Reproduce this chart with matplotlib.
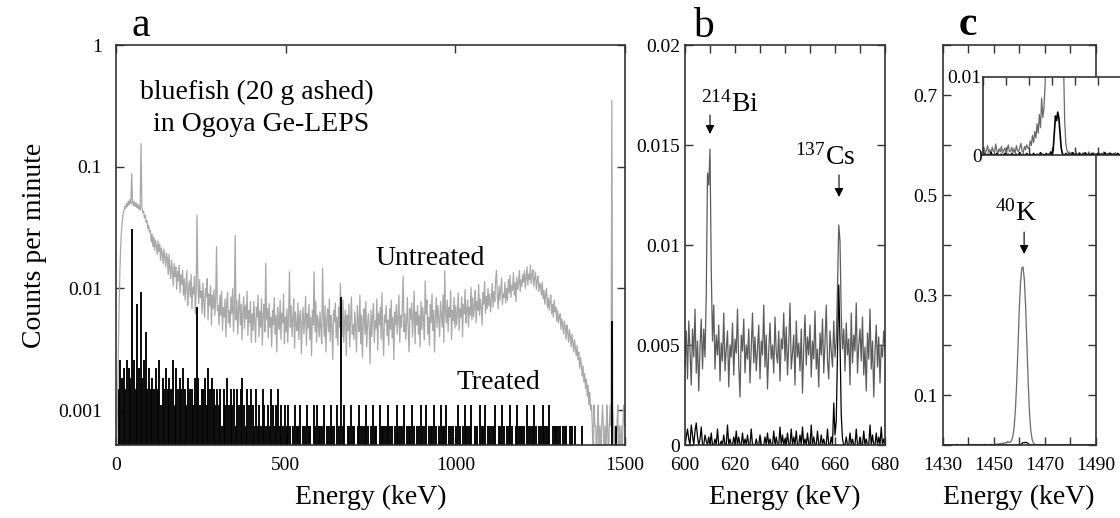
"""Ge-LEPS spectra of ashed bluefish: full range (log), 137Cs region and 40K region."""

import numpy as np
import matplotlib
matplotlib.use("Agg")
import matplotlib.pyplot as plt
from matplotlib.ticker import NullLocator, MultipleLocator

plt.rcParams["font.family"] = ["Liberation Serif", "DejaVu Serif"]
plt.rcParams["mathtext.fontset"] = "custom"
plt.rcParams["mathtext.rm"] = "Liberation Serif"
plt.rcParams["mathtext.default"] = "rm"

# ---- panel a: full spectrum ----
# untreated, 2.5 keV bins, in 1e-4 cpm (one row = 50 keV)
A_UNT_BIN = 2.5
UNTREATED_A = [
    3, 8, 20, 60, 130, 220, 300, 360, 410, 440, 470, 455, 500, 470, 520, 485, 540, 500, 880, 510,
    480, 520, 470, 505, 460, 495, 450, 480, 440, 1550, 470, 420, 430, 380, 400, 350, 360, 310, 330, 290,
    300, 240, 280, 220, 265, 205, 250, 225, 190, 245, 200, 230, 170, 215, 195, 160, 210, 180, 150, 195,
    175, 130, 190, 145, 120, 170, 140, 105, 160, 125, 150, 98, 138, 115, 155, 92, 130, 108, 140, 88,
    120, 80, 105, 140, 72, 98, 115, 85, 130, 68, 102, 90, 125, 62, 95, 400, 110, 75, 118, 84,
    95, 62, 110, 78, 58, 100, 85, 120, 55, 90, 72, 105, 50, 88, 68, 98, 60, 82, 220, 66,
    72, 50, 88, 60, 95, 45, 70, 58, 82, 40, 75, 92, 52, 66, 48, 85, 62, 100, 44, 70,
    272, 55, 80, 42, 68, 90, 50, 74, 38, 64, 85, 47, 72, 56, 95, 41, 66, 52, 78, 36,
    62, 45, 78, 52, 36, 70, 58, 88, 40, 65, 48, 82, 34, 60, 74, 44, 160, 55, 68, 39,
    75, 48, 58, 33, 66, 50, 84, 42, 60, 30, 70, 54, 46, 80, 38, 62, 52, 90, 35, 58,
    44, 68, 36, 60, 137, 48, 72, 40, 56, 82, 32, 64, 50, 45, 76, 38, 58, 66, 29, 52,
    70, 42, 55, 86, 34, 62, 47, 74, 38, 58, 28, 66, 50, 137, 44, 78, 36, 60, 52, 40,
    64, 46, 35, 147, 58, 40, 72, 30, 55, 68, 44, 82, 37, 60, 49, 26, 66, 53, 76, 39,
    58, 34, 70, 48, 110, 62, 40, 80, 36, 54, 66, 28, 60, 45, 74, 33, 56, 85, 42, 50,
    38, 64, 48, 30, 72, 52, 44, 88, 35, 60, 27, 56, 68, 42, 78, 33, 50, 62, 46, 24,
    66, 40, 58, 75, 36, 54, 47, 82, 31, 62, 50, 70, 38, 92, 44, 28, 60, 52, 72, 41,
    55, 34, 68, 46, 80, 39, 58, 26, 64, 50, 74, 42, 57, 88, 36, 60, 48, 70, 125, 44,
    62, 38, 52, 84, 45, 30, 68, 56, 76, 40, 58, 95, 35, 64, 50, 72, 42, 60, 33, 78,
    46, 70, 55, 38, 115, 62, 80, 42, 58, 34, 74, 52, 90, 45, 66, 30, 60, 84, 48, 72,
    56, 40, 78, 62, 48, 88, 36, 140, 64, 52, 80, 44, 70, 58, 96, 38, 66, 54, 84, 47,
    72, 50, 64, 92, 45, 68, 58, 85, 40, 74, 62, 98, 52, 66, 80, 48, 70, 60, 102, 55,
    84, 58, 72, 96, 52, 78, 66, 108, 60, 82, 70, 50, 92, 74, 114, 62, 86, 68, 100, 72,
    90, 64, 82, 110, 70, 94, 78, 118, 140, 86, 68, 104, 80, 96, 122, 74, 90, 84, 112, 76,
    100, 80, 118, 92, 128, 84, 106, 96, 135, 88, 112, 78, 124, 98, 110, 140, 94, 118, 104, 130,
    112, 140, 100, 124, 150, 106, 132, 118, 155, 110, 128, 142, 104, 122, 136, 98, 116, 126, 94, 110,
    104, 88, 112, 82, 96, 74, 90, 100, 70, 84, 66, 78, 88, 62, 74, 58, 80, 64, 70, 54,
    66, 52, 58, 62, 46, 56, 50, 42, 54, 48, 38, 50, 44, 36, 46, 40, 33, 42, 36, 30,
    38, 32, 28, 34, 26, 30, 22, 27, 24, 19, 23, 17, 20, 15, 18, 13, 16, 11, 14, 10,
    11, 7.4, 3.7, 11, 7.4, 7.4, 3.7, 7.4, 11, 3.7, 7.4, 3.7, 7.4, 11, 7.4, 3.7, 7.4, 3.7, 11, 7.4,
    3.7, 7.4, 11, 7.4, 3500, 11, 7.4, 3.7, 7.4, 3.7, 7.4, 11, 3.7, 7.4, 3.7, 7.4, 3.7, 7.4, 11, 7.4,
]
# treated: counts per 5 keV bin (one digit per bin), 1 count = 0.00037 cpm
A_TRT_BIN = 5.0
TREATED_A_COUNTS = (
    "14756476507406057046" "45464735464547364546" "43544354534453645434"
    "34243534342434532434" "32423243232432342323" "23212322312232213232"
    "22312232213222312232" "21232223212322132222" "32212322231222321223"
    "22312223212322312221" "23212322231221322312" "22231223212232123222"
    "21322232122322231222" "22122212212101211010" "01001000100010200100"
)
CPM_PER_COUNT = 0.00037
# treated peaks (bin centre keV -> cpm)
TREATED_A_PEAKS = {47.5: 0.0305, 62.5: 0.0075, 72.5: 0.0093, 87.5: 0.0044,
                   237.5: 0.0070, 662.5: 0.0085, 1462.5: 0.0054}

# ---- panel b: 600-680 keV, 0.5 keV channels (1e-4 cpm) ----
B_START, B_STEP = 600.0, 0.5
UNTREATED_B = [
    40, 57, 33, 62, 47, 30, 58, 44, 68, 36, 52, 27, 49, 63, 38, 58, 44, 75, 136, 130,
    148, 88, 52, 70, 38, 55, 45, 60, 32, 51, 42, 66, 37, 48, 57, 29, 50, 44, 61, 35,
    53, 46, 68, 40, 24, 55, 47, 63, 36, 50, 43, 58, 31, 49, 66, 41, 54, 37, 48, 60,
    33, 52, 45, 70, 39, 55, 28, 47, 61, 43, 50, 36, 64, 46, 41, 57, 32, 53, 48, 66,
    42, 59, 35, 50, 71, 38, 46, 55, 30, 62, 44, 51, 37, 58, 26, 49, 65, 40, 54, 45,
    60, 34, 52, 43, 67, 38, 48, 29, 56, 45, 63, 36, 51, 70, 42, 33, 57, 47, 39, 62,
    44, 52, 79, 110, 102, 65, 48, 58, 37, 61, 45, 53, 30, 66, 41, 55, 47, 71, 36, 50,
    58, 42, 64, 35, 49, 27, 56, 43, 68, 38, 52, 24, 47, 60, 39, 54, 31, 50, 44, 57,
    48,
]
TREATED_B = [
    0, 4, 8, 3, 0, 10, 5, 0, 7, 11, 4, 0, 3, 9, 0, 0, 5, 2, 0, 4,
    0, 6, 0, 0, 3, 0, 8, 0, 0, 2, 0, 5, 0, 0, 10, 0, 3, 0, 0, 4,
    0, 7, 0, 4, 0, 0, 6, 0, 3, 0, 5, 0, 0, 8, 0, 0, 0, 3, 0, 0,
    5, 0, 0, 0, 4, 0, 6, 0, 3, 0, 0, 7, 0, 4, 0, 0, 9, 0, 5, 0,
    3, 0, 6, 0, 0, 8, 0, 4, 0, 7, 0, 0, 5, 0, 9, 0, 3, 0, 6, 0,
    0, 10, 0, 4, 0, 0, 7, 0, 0, 5, 0, 3, 0, 0, 8, 0, 0, 4, 0, 21,
    5, 12, 45, 80, 52, 15, 3, 0, 0, 4, 0, 0, 6, 0, 3, 0, 0, 8, 0, 0,
    4, 0, 0, 7, 0, 3, 0, 0, 10, 0, 5, 0, 0, 6, 0, 4, 0, 9, 0, 3,
    0,
]

# ---- panel c: 1430-1490 keV, 0.5 keV channels (1e-4 cpm) ----
C_START, C_STEP = 1430.0, 0.5
UNTREATED_C = [
    4, 9, 2, 6, 12, 3, 7, 1, 10, 5, 3, 14, 6, 2, 8, 4, 11, 3, 6, 9,
    2, 7, 13, 4, 5, 10, 3, 8, 2, 12, 6, 4, 9, 15, 5, 3, 11, 7, 13, 9,
    8, 18, 12, 25, 16, 30, 22, 40, 28, 52, 35, 73, 48, 60, 90, 180, 350, 700, 1250, 1950,
    2700, 3250, 3540, 3560, 3300, 2750, 2000, 1250, 650, 300, 120, 45, 15, 6, 2, 4, 1, 3, 0, 2,
    1, 4, 0, 2, 3, 0, 1, 3, 0, 2, 1, 0, 4, 1, 2, 0, 3, 1, 0, 2,
    1, 3, 0, 2, 1, 4, 0, 1, 2, 0, 3, 1, 0, 2, 1, 3, 0, 1, 2, 0,
    1,
]
TREATED_C = [
    0, 2, 0, 0, 1, 0, 0, 3, 0, 0, 1, 0, 2, 0, 0, 0, 1, 0, 0, 2,
    0, 0, 1, 0, 0, 2, 0, 0, 0, 1, 0, 0, 3, 0, 0, 1, 0, 0, 2, 0,
    0, 1, 0, 0, 2, 0, 0, 1, 0, 0, 3, 0, 1, 0, 0, 2, 0, 1, 0, 4,
    0, 6, 28, 50, 44, 55, 47, 28, 9, 2, 0, 0, 2, 0, 0, 1, 0, 0, 3, 0,
    0, 1, 0, 0, 2, 0, 0, 1, 0, 3, 0, 0, 1, 0, 0, 2, 0, 0, 1, 0,
    2, 0, 0, 1, 0, 0, 3, 0, 0, 1, 0, 2, 0, 0, 1, 0, 0, 2, 0, 0,
    1,
]

GRAY_A, GRAY_B, GRAY_C = "#a8a8a8", "#5c5c5c", "#6a6a6a"
FRAME = "#333333"
W, H = 1120, 518


def px_rect(x0, y0, x1, y1):
    return [x0 / W, 1 - y1 / H, (x1 - x0) / W, (y1 - y0) / H]


def frame(ax, pad):
    for sp in ax.spines.values():
        sp.set_color(FRAME)
        sp.set_linewidth(1.2)
    ax.tick_params(which="both", direction="in", top=True, right=True,
                   length=6, width=1, color=FRAME, labelsize=14)
    ax.tick_params(axis="y", pad=pad)
    ax.tick_params(axis="x", pad=9)


def arrow(ax, x, y_tail, y_tip):
    ax.annotate("", xy=(x, y_tip), xytext=(x, y_tail),
                arrowprops=dict(arrowstyle="-|>", color="black", lw=0.8,
                                mutation_scale=13, shrinkA=0, shrinkB=0))


fig = plt.figure(figsize=(W / 100, H / 100), dpi=100)

# ---------------- a ----------------
ax = fig.add_axes(px_rect(116, 45, 625, 445))
e_unt = np.arange(len(UNTREATED_A)) * A_UNT_BIN + A_UNT_BIN / 2
unt_a = np.array(UNTREATED_A) * 1e-4
cnt = np.array([int(c) for c in TREATED_A_COUNTS], dtype=float)
e_trt = np.arange(len(cnt)) * A_TRT_BIN + A_TRT_BIN / 2
trt_a = cnt * CPM_PER_COUNT
for e, v in TREATED_A_PEAKS.items():
    trt_a[np.argmin(abs(e_trt - e))] = v
ax.plot(e_unt, unt_a, color=GRAY_A, lw=0.9)
ax.vlines(e_trt, 1e-5, np.where(trt_a > 0, trt_a, 1e-5), color="black", lw=1.35)
ax.set_yscale("log")
ax.set_xlim(0, 1500)
ax.set_ylim(0.000516, 1)
ax.set_yticks([1e-3, 1e-2, 1e-1, 1])
ax.set_yticklabels(["0.001", "0.01", "0.1", "1"])
ax.yaxis.set_minor_locator(NullLocator())
ax.set_xticks([0, 500, 1000, 1500])
frame(ax, 10)
ax.text(0.047, 0.865, "bluefish (20 g ashed)", transform=ax.transAxes, fontsize=20)
ax.text(0.0735, 0.785, "in Ogoya Ge-LEPS", transform=ax.transAxes, fontsize=20)
ax.text(0.51, 0.45, "Untreated", transform=ax.transAxes, fontsize=20)
ax.text(0.668, 0.139, "Treated", transform=ax.transAxes, fontsize=20)

# ---------------- b ----------------
bx = fig.add_axes(px_rect(685, 45, 885, 445))
e_b = B_START + np.arange(len(UNTREATED_B)) * B_STEP
bx.plot(e_b, np.array(UNTREATED_B) * 1e-4, color=GRAY_B, lw=0.9)
bx.plot(e_b, np.array(TREATED_B) * 1e-4, color="black", lw=0.9)
bx.set_xlim(600, 680)
bx.set_ylim(0, 0.02)
bx.set_xticks([600, 620, 640, 660, 680])
bx.xaxis.set_minor_locator(MultipleLocator(10))
bx.set_yticks([0, 0.005, 0.01, 0.015, 0.02])
bx.set_yticklabels(["0", "0.005", "0.01", "0.015", "0.02"])
frame(bx, 3.5)
bx.text(617.8, 0.01665, r"$^{214}$Bi", ha="center", va="baseline", fontsize=20)
arrow(bx, 610, 0.01650, 0.01555)
bx.text(656, 0.0140, r"$^{137}$Cs", ha="center", va="baseline", fontsize=20)
arrow(bx, 661.6, 0.0135, 0.0124)

# ---------------- c ----------------
cx = fig.add_axes(px_rect(942.5, 45, 1096, 445))
e_c = C_START + np.arange(len(UNTREATED_C)) * C_STEP
unt_c = np.array(UNTREATED_C) * 1e-4
trt_c = np.array(TREATED_C) * 1e-4
cx.plot(e_c, unt_c, color=GRAY_C, lw=0.9)
cx.plot(e_c, trt_c, color="black", lw=0.9)
cx.set_xlim(1430, 1490)
cx.set_ylim(0, 0.8)
cx.set_xticks([1430, 1450, 1470, 1490])
cx.xaxis.set_minor_locator(MultipleLocator(10))
cx.set_yticks([0.1, 0.3, 0.5, 0.7])
cx.set_yticklabels(["0.1", "0.3", "0.5", "0.7"])
cx.yaxis.set_minor_locator(MultipleLocator(0.1))
frame(cx, 3.5)
cx.text(1458.9, 0.448, r"$^{40}$K", ha="center", va="baseline", fontsize=20)
arrow(cx, 1461.9, 0.426, 0.382)

# inset: 0-0.01 cpm zoom of the same region
ix = fig.add_axes(px_rect(983, 77, 1121, 155))
ix.plot(e_c, unt_c, color=GRAY_C, lw=0.9)
ix.plot(e_c, trt_c, color="black", lw=1.2)
ix.set_xlim(1430, 1490)
ix.set_ylim(0, 0.01)
ix.set_yticks([0, 0.01])
ix.set_yticklabels(["0", "0.01"])
ix.xaxis.set_major_locator(MultipleLocator(10))
ix.set_xticklabels([])
for sp in ix.spines.values():
    sp.set_color(FRAME)
    sp.set_linewidth(1.2)
ix.spines["right"].set_visible(False)
ix.tick_params(axis="x", which="both", direction="in", top=True, bottom=True,
               length=6, width=1, color=FRAME)
ix.tick_params(axis="y", length=0, pad=1, labelsize=14)

# panel letters and shared labels
fig.text(141 / W, 1 - 36 / H, "a", fontsize=30, ha="center", va="baseline")
fig.text(703 / W, 1 - 37 / H, "b", fontsize=30, ha="center", va="baseline")
fig.text(968 / W, 1 - 35 / H, "c", fontsize=30, ha="center", va="baseline",
         fontweight="bold")
fig.text(35 / W, 1 - 245 / H, "Counts per minute", rotation=90, fontsize=20,
         ha="center", va="center")
for xc in (370.5, 785, 1019):
    fig.text(xc / W, 1 - 497 / H, "Energy (keV)", fontsize=20, ha="center", va="center")

fig.savefig("out.png", dpi=100)
plt.close(fig)
